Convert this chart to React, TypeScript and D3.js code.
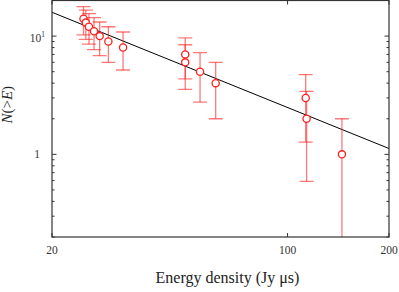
import { useRef, useEffect } from 'react';
import * as d3 from 'd3';

// energy density (Jy us) of each burst and the cumulative count above it
const energy = [24.8, 25.2, 25.75, 26.65, 27.7, 29.4, 32.5, 49.7, 49.7, 55, 61.2, 113.2, 113.9, 145];
const counts = [14, 13, 12, 11, 10, 9, 8, 7, 6, 5, 4, 3, 2, 1];
// error bar half lengths (counting errors)
const errors = [3.74, 3.61, 3.46, 3.32, 3.16, 3, 2.83, 2.65, 2.45, 2.24, 2, 1.73, 1.41, 1];

// power-law fit, end points
const fitE = [20, 200];
const fitN = [15.9, 1.12];

const xTicks = [20, 100, 200];
const yMinor = [0.2, 0.3, 0.4, 0.5, 0.6, 0.7, 0.8, 0.9, 2, 3, 4, 5, 6, 7, 8, 9];
const yMajor = [1, 10];

export default function App() {
  const svgRef = useRef<SVGSVGElement>(null);

  useEffect(() => {
    const width = 399;
    const height = 292;
    const margin = { top: 0.5, right: 10, bottom: 55, left: 52 };
    const font = '"Liberation Serif", "Times New Roman", serif';

    const svg = d3.select(svgRef.current)
      .attr('width', width)
      .attr('height', height);
    svg.selectAll('*').remove();

    const x = d3.scaleLog().domain([20, 200]).range([margin.left, width - margin.right]);
    const y = d3.scaleLog().domain([0.2, 20]).range([height - margin.bottom, margin.top]);

    const x0 = x.range()[0], x1 = x.range()[1];
    const y0 = y.range()[0], y1 = y.range()[1];
    const axisColor = '#333';

    // fit line (clipped to the plot box)
    svg.append('clipPath').attr('id', 'plotclip')
      .append('rect')
      .attr('x', x0).attr('y', y1)
      .attr('width', x1 - x0).attr('height', y0 - y1);

    const plot = svg.append('g').attr('clip-path', 'url(#plotclip)');

    plot.append('line')
      .attr('x1', x(fitE[0])).attr('y1', y(fitN[0]))
      .attr('x2', x(fitE[1])).attr('y2', y(fitN[1]))
      .attr('stroke', '#000')
      .attr('stroke-width', 1);

    const data = energy.map((e, i) => ({ e, n: counts[i], err: errors[i] }));
    const cap = 7;
    const red = '#ff2020';

    const bars = plot.selectAll('g.bar').data(data).enter().append('g')
      .attr('class', 'bar')
      .attr('stroke', red)
      .attr('stroke-opacity', 0.6)
      .attr('stroke-width', 1.3)
      .attr('fill', 'none');

    const lo = (d: any) => (d.n - d.err > 0.01 ? y(d.n - d.err) : y0 + 5);
    bars.append('line')
      .attr('x1', d => x(d.e)).attr('x2', d => x(d.e))
      .attr('y1', d => y(d.n + d.err)).attr('y2', lo);
    bars.append('line')
      .attr('x1', d => x(d.e) - cap).attr('x2', d => x(d.e) + cap)
      .attr('y1', d => y(d.n + d.err)).attr('y2', d => y(d.n + d.err));
    bars.filter(d => d.n - d.err > 0.01).append('line')
      .attr('x1', d => x(d.e) - cap).attr('x2', d => x(d.e) + cap)
      .attr('y1', lo).attr('y2', lo);

    plot.selectAll('circle').data(data).enter().append('circle')
      .attr('cx', d => x(d.e))
      .attr('cy', d => y(d.n))
      .attr('r', 3.6)
      .attr('fill', '#fff')
      .attr('stroke', red)
      .attr('stroke-width', 1.3);

    // frame
    svg.append('rect')
      .attr('x', x0).attr('y', y1)
      .attr('width', x1 - x0).attr('height', y0 - y1)
      .attr('fill', 'none')
      .attr('stroke', axisColor)
      .attr('stroke-width', 1.2);

    // y ticks, inward on both sides
    const ticks = svg.append('g').attr('stroke', axisColor).attr('stroke-width', 1);
    yMinor.forEach(v => {
      ticks.append('line').attr('x1', x0).attr('x2', x0 + 2.5).attr('y1', y(v)).attr('y2', y(v));
      ticks.append('line').attr('x1', x1).attr('x2', x1 - 2.5).attr('y1', y(v)).attr('y2', y(v));
    });
    yMajor.forEach(v => {
      ticks.append('line').attr('x1', x0).attr('x2', x0 + 4.5).attr('y1', y(v)).attr('y2', y(v));
      ticks.append('line').attr('x1', x1).attr('x2', x1 - 4.5).attr('y1', y(v)).attr('y2', y(v));
    });
    xTicks.forEach(v => {
      ticks.append('line').attr('x1', x(v)).attr('x2', x(v)).attr('y1', y0).attr('y2', y0 - 4);
      ticks.append('line').attr('x1', x(v)).attr('x2', x(v)).attr('y1', y1).attr('y2', y1 + 4);
    });

    // tick labels
    svg.append('g').selectAll('text').data(xTicks).enter().append('text')
      .attr('x', d => x(d))
      .attr('y', y0 + 17)
      .attr('text-anchor', 'middle')
      .attr('font-family', font)
      .attr('font-size', 11.5)
      .attr('fill', '#333')
      .text(d => String(d));

    svg.append('text')
      .attr('x', x0 - 12).attr('y', y(1) + 4)
      .attr('text-anchor', 'end')
      .attr('font-family', font).attr('font-size', 11.5).attr('fill', '#333')
      .text('1');

    const t10 = svg.append('text')
      .attr('x', x0 - 7).attr('y', y(10) + 6)
      .attr('text-anchor', 'end')
      .attr('font-family', font).attr('font-size', 11.5).attr('fill', '#333');
    t10.append('tspan').text('10');
    t10.append('tspan').attr('dy', -5).attr('font-size', 7.5).text('1');

    // axis titles
    svg.append('text')
      .attr('x', (x0 + x1) / 2 + 7)
      .attr('y', 283)
      .attr('text-anchor', 'middle')
      .attr('font-family', font)
      .attr('font-size', 16)
      .attr('fill', '#222')
      .text('Energy density (Jy μs)');

    const yl = svg.append('text')
      .attr('transform', `translate(12, ${(y0 + y1) / 2 - 14}) rotate(-90)`)
      .attr('text-anchor', 'middle')
      .attr('font-family', font)
      .attr('font-size', 15)
      .attr('fill', '#222');
    yl.append('tspan').attr('font-style', 'italic').text('N');
    yl.append('tspan').text('(>');
    yl.append('tspan').attr('font-style', 'italic').text('E');
    yl.append('tspan').text(')');
  }, []);

  return <svg ref={svgRef} style={{ position: 'absolute', left: 0, top: 0 }} />;
}
